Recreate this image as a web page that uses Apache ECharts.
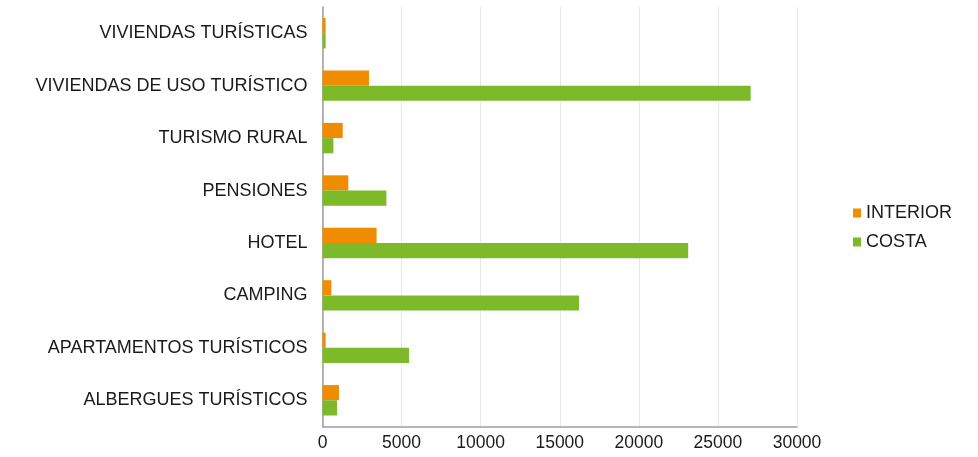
<!DOCTYPE html>
<html>
<head>
<meta charset="utf-8">
<script src="https://cdn.jsdelivr.net/npm/echarts@6/dist/echarts.min.js"></script>
<style>
html,body{margin:0;padding:0;background:#fff;}
#chart{width:978px;height:457px;}
</style>
</head>
<body>
<div id="chart"></div>
<script>
var categories = ['ALBERGUES TURÍSTICOS','APARTAMENTOS TURÍSTICOS','CAMPING','HOTEL','PENSIONES','TURISMO RURAL','VIVIENDAS DE USO TURÍSTICO','VIVIENDAS TURÍSTICAS'];
var interior = [1040, 200, 560, 3420, 1630, 1280, 2940, 200];
var costa = [920, 5470, 16220, 23120, 4040, 690, 27070, 200];
var xTicks = [0, 5000, 10000, 15000, 20000, 25000, 30000];

var chart = echarts.init(document.getElementById('chart'), null, {renderer:'canvas'});
var font = 'Liberation Sans, Arial, Helvetica, sans-serif';
chart.setOption({
  animation: false,
  backgroundColor: '#ffffff',
  grid: {left: 322.5, right: 181, top: 7, bottom: 30.5, containLabel: false},
  legend: {
    orient: 'vertical',
    left: 848, top: 199,
    itemWidth: 8, itemHeight: 9, itemGap: 11,
    icon: 'rect',
    data: ['INTERIOR','COSTA'],
    textStyle: {fontFamily: font, fontSize: 18, color: '#1a1a1a'}
  },
  xAxis: {
    type: 'value',
    min: xTicks[0], max: xTicks[xTicks.length-1], interval: 5000,
    axisLine: {show: true, lineStyle: {color: '#9e9e9e', width: 1.5}},
    axisTick: {show: false},
    splitLine: {show: true, lineStyle: {color: '#e8e8e8', width: 1}},
    axisLabel: {fontFamily: font, fontSize: 17.5, color: '#1a1a1a', margin: 8,
      formatter: function (v) { return String(v); }}
  },
  yAxis: {
    type: 'category',
    data: categories,
    axisLine: {show: true, lineStyle: {color: '#9e9e9e', width: 1.5}},
    axisTick: {show: false},
    splitLine: {show: false},
    axisLabel: {fontFamily: font, fontSize: 18, color: '#1a1a1a', margin: 15}
  },
  series: [
    {name: 'INTERIOR', type: 'bar', data: interior, barGap: '0%', barCategoryGap: '42%',
     itemStyle: {color: '#f08c00'}},
    {name: 'COSTA', type: 'bar', data: costa, barGap: '0%', barCategoryGap: '42%',
     itemStyle: {color: '#7cba2a'}}
  ]
});
</script>
</body>
</html>
